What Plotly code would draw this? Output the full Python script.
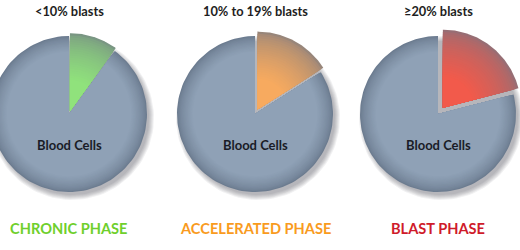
import numpy as np
import plotly.graph_objects as go

# ---- data ----
phases = ["CHRONIC PHASE", "ACCELERATED PHASE", "BLAST PHASE"]
blast_labels = ["<10% blasts", "10% to 19% blasts", "≥20% blasts"]
blast_share = [10, 16, 21]          # percent of each pie that is blasts
rest_label = "Blood Cells"

# ---- style ----
centers = [(69, 114), (255, 114), (438, 114)]
radius = 78
pull_px = [3, 5, 8]
slice_colors = [(144, 226, 124), (247, 170, 95), (242, 90, 75)]
phase_colors = ["#6fcf2c", "#f99b1e", "#cf1b2a"]
gray_in = (143, 161, 182)
gray_out = (108, 124, 144)
vignette = (112, 118, 134)
FONT = "Lato"


def blend(c1, c2, t):
    return "rgb(%d,%d,%d)" % tuple(round(a + (b - a) * t) for a, b in zip(c1, c2))


def wedge(cx, cy, r, f0, f1, n=120):
    th = np.linspace(f0, f1, n) * 2 * np.pi
    xs = np.concatenate([[cx], cx + r * np.sin(th), [cx]])
    ys = np.concatenate([[cy], cy - r * np.cos(th), [cy]])
    return xs, ys


fig = go.Figure()


def add(xs, ys, color, opacity=1.0):
    fig.add_trace(go.Scatter(x=xs, y=ys, mode="lines", fill="toself",
                             fillcolor=color, line=dict(width=0),
                             opacity=opacity, hoverinfo="skip",
                             showlegend=False))


for i, share in enumerate(blast_share):
    cx, cy = centers[i]
    f = share / 100.0
    # soft drop shadow
    for k in range(6):
        xs, ys = wedge(cx + 3, cy + 4, radius + 4 - k, 0, 1)
        add(xs, ys, "rgba(60,60,70,0.07)")
    # blood cells part, shaded rim
    steps = 14
    for k in range(steps):
        t = k / (steps - 1)
        r = radius * (1 - 0.2 * t)
        xs, ys = wedge(cx, cy, r, f, 1)
        add(xs, ys, blend(gray_out, gray_in, t ** 0.7))
    # blasts slice, pulled out along its bisector
    mid = f / 2 * 2 * np.pi
    px, py = cx + pull_px[i] * np.sin(mid), cy - pull_px[i] * np.cos(mid)
    steps = 22
    for k in range(steps):
        t = k / (steps - 1)
        r = radius * (1 - 0.6 * t)
        xs, ys = wedge(px, py, r, 0, f)
        add(xs, ys, blend(vignette, slice_colors[i], 0.3 + 0.7 * t ** 0.6))
    # texts
    fig.add_annotation(x=cx, y=11, text=blast_labels[i], showarrow=False,
                       font=dict(family=FONT, size=12.8, color="#1e1e22", weight="bold"))
    fig.add_annotation(x=cx, y=145, text=rest_label, showarrow=False,
                       font=dict(family=FONT, size=13, color="#1a1c26", weight="bold"))
    fig.add_annotation(x=cx, y=228, text=phases[i], showarrow=False,
                       font=dict(family=FONT, size=14.6, color=phase_colors[i], weight="bold"))

fig.update_layout(
    width=520, height=250,
    margin=dict(l=0, r=0, t=0, b=0),
    paper_bgcolor="white", plot_bgcolor="white",
    xaxis=dict(range=[0, 520], visible=False, fixedrange=True),
    yaxis=dict(range=[250, 0], visible=False, fixedrange=True),
    showlegend=False,
)
fig.write_html("out.html")
